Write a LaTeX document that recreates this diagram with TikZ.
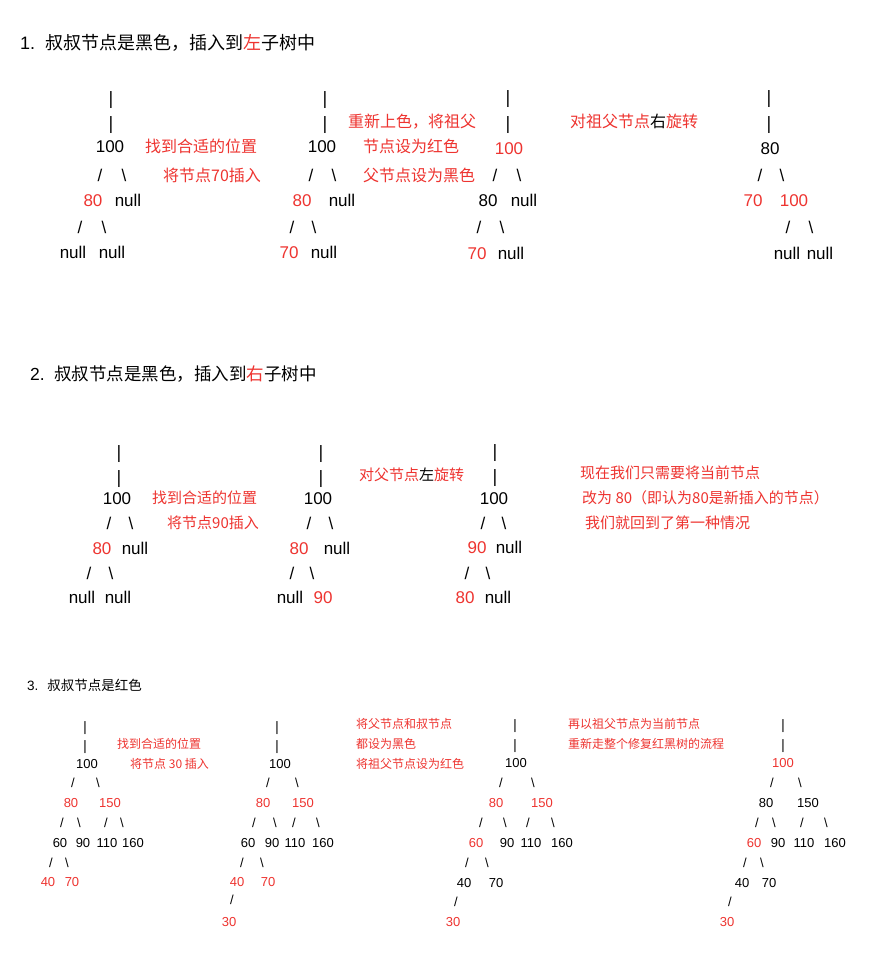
\documentclass[tikz,border=0pt]{standalone}
\usepackage{fontspec}
\setmainfont{Liberation Sans}
\newfontfamily\cjk{Noto Sans CJK SC}
\newfontfamily\barfont{DejaVu Sans}
\definecolor{rbred}{RGB}{238, 52, 48}
\newcommand{\slashch}{/}
\newcommand{\bslashch}{\textbackslash}
\newcommand{\barch}{{\barfont|}}
\tikzset{
  bigtok/.style={
    anchor=base,
    inner sep=0pt,
    yshift=-6pt,
    font=\fontsize{17}{20}\selectfont
  },
  smalltok/.style={
    anchor=base,
    inner sep=0pt,
    yshift=-4.6pt,
    font=\fontsize{13}{15}\selectfont
  },
  note/.style={
    anchor=base west,
    inner sep=0pt,
    text=rbred
  },
  bignote/.style={note, yshift=-6pt, font=\cjk\fontsize{16}{19}\selectfont},
  midnote/.style={note, yshift=-5.7pt, font=\cjk\fontsize{15}{18}\selectfont},
  smallnote/.style={note, yshift=-4.6pt, font=\cjk\fontsize{12}{14}\selectfont},
  casetitle/.style={anchor=base west, inner sep=0pt}
}
\begin{document}
\begin{tikzpicture}[x=1pt, y=-1pt]
  \fill[white] (0,0) rectangle (886,955);
  \useasboundingbox (0,0) rectangle (886,955);

  % case 1
  \node[casetitle, yshift=-6.8pt, font=\fontsize{18}{21}\selectfont] (title1) at (20,43)
    {1.\hspace{10pt}{\cjk 叔叔节点是黑色，插入到{\color{rbred}左}子树中}};

  \foreach \x/\y/\t/\c/\n in {
      111/99/\barch/black/ta-bar1, 111/124/\barch/black/ta-bar2, 110/147/100/black/ta-root,
      100/175/\slashch/black/ta-e1, 124/175/\bslashch/black/ta-e2,
      93/200/80/rbred/ta-p, 128/200/null/black/ta-u,
      80/227/\slashch/black/ta-e3, 104/227/\bslashch/black/ta-e4,
      73/252/null/black/ta-n1, 112/252/null/black/ta-n2}
    \node[bigtok, text=\c] (\n) at (\x,\y) {\t};
  \node[bignote] (ta-note1) at (145,147) {找到合适的位置};
  \node[bignote] (ta-note2) at (163,175) {将节点70插入};

  \foreach \x/\y/\t/\c/\n in {
      325/99/\barch/black/tb-bar1, 325/124/\barch/black/tb-bar2, 322/147/100/black/tb-root,
      311/175/\slashch/black/tb-e1, 334/175/\bslashch/black/tb-e2,
      302/200/80/rbred/tb-p, 342/200/null/black/tb-u,
      292/227/\slashch/black/tb-e3, 314/227/\bslashch/black/tb-e4,
      289/252/70/rbred/tb-x, 324/252/null/black/tb-n}
    \node[bigtok, text=\c] (\n) at (\x,\y) {\t};
  \node[bignote] (tb-note1) at (348,122) {重新上色，将祖父};
  \node[bignote] (tb-note2) at (363,147) {节点设为红色};
  \node[bignote] (tb-note3) at (363,175) {父节点设为黑色};

  \foreach \x/\y/\t/\c/\n in {
      508/98/\barch/black/tc-bar1, 508/124/\barch/black/tc-bar2, 509/148/100/rbred/tc-root,
      495/175/\slashch/black/tc-e1, 519/175/\bslashch/black/tc-e2,
      488/200/80/black/tc-p, 524/200/null/black/tc-u,
      479/227/\slashch/black/tc-e3, 502/227/\bslashch/black/tc-e4,
      477/253/70/rbred/tc-x, 511/253/null/black/tc-n}
    \node[bigtok, text=\c] (\n) at (\x,\y) {\t};
  \node[bignote] (tc-note) at (570,122) {对祖父节点{\color{black}右}旋转};

  \foreach \x/\y/\t/\c/\n in {
      769/98/\barch/black/td-bar1, 769/124/\barch/black/td-bar2, 770/148/80/black/td-root,
      760/175/\slashch/black/td-e1, 782/175/\bslashch/black/td-e2,
      753/200/70/rbred/td-x, 794/200/100/rbred/td-g,
      788/227/\slashch/black/td-e3, 811/227/\bslashch/black/td-e4,
      787/253/null/black/td-n1, 820/253/null/black/td-n2}
    \node[bigtok, text=\c] (\n) at (\x,\y) {\t};

  % case 2
  \node[casetitle, yshift=-6.6pt, font=\fontsize{17.5}{21}\selectfont] (title2) at (30,374)
    {2.\hspace{9.6pt}{\cjk 叔叔节点是黑色，插入到{\color{rbred}右}子树中}};

  \foreach \x/\y/\t/\c/\n in {
      119/452/\barch/black/sa-bar1, 119/477/\barch/black/sa-bar2, 117/498/100/black/sa-root,
      109/523/\slashch/black/sa-e1, 131/523/\bslashch/black/sa-e2,
      102/548/80/rbred/sa-p, 135/548/null/black/sa-u,
      89/573/\slashch/black/sa-e3, 111/573/\bslashch/black/sa-e4,
      82/597/null/black/sa-n1, 118/597/null/black/sa-n2}
    \node[bigtok, text=\c] (\n) at (\x,\y) {\t};
  \node[midnote] (sa-note1) at (152,498) {找到合适的位置};
  \node[midnote] (sa-note2) at (167,523) {将节点90插入};

  \foreach \x/\y/\t/\c/\n in {
      321/452/\barch/black/sb-bar1, 321/477/\barch/black/sb-bar2, 318/498/100/black/sb-root,
      309/523/\slashch/black/sb-e1, 331/523/\bslashch/black/sb-e2,
      299/548/80/rbred/sb-p, 337/548/null/black/sb-u,
      292/573/\slashch/black/sb-e3, 312/573/\bslashch/black/sb-e4,
      290/597/null/black/sb-n, 323/597/90/rbred/sb-x}
    \node[bigtok, text=\c] (\n) at (\x,\y) {\t};
  \node[midnote] (sb-note) at (359,475) {对父节点{\color{black}左}旋转};

  \foreach \x/\y/\t/\c/\n in {
      495/451/\barch/black/sc-bar1, 495/476/\barch/black/sc-bar2, 494/498/100/black/sc-root,
      483/523/\slashch/black/sc-e1, 504/523/\bslashch/black/sc-e2,
      477/547/90/rbred/sc-x, 509/547/null/black/sc-u,
      467/573/\slashch/black/sc-e3, 488/573/\bslashch/black/sc-e4,
      465/597/80/rbred/sc-p, 498/597/null/black/sc-n}
    \node[bigtok, text=\c] (\n) at (\x,\y) {\t};
  \node[midnote] (sc-note1) at (580,473) {现在我们只需要将当前节点};
  \node[midnote] (sc-note2) at (582,498) {改为 80（即认为80是新插入的节点）};
  \node[midnote] (sc-note3) at (585,523) {我们就回到了第一种情况};

  % case 3
  \node[casetitle, yshift=-5.1pt, font=\fontsize{13.5}{16}\selectfont] (title3) at (27,685)
    {3.\hspace{9pt}{\cjk 叔叔节点是红色}};

  \foreach \x/\y/\t/\c/\n in {
      85/727/\barch/black/ra-bar1, 85/746/\barch/black/ra-bar2, 87/764/100/black/ra-root,
      73/783/\slashch/black/ra-e1, 98/783/\bslashch/black/ra-e2,
      71/803/80/rbred/ra-p, 110/803/150/rbred/ra-u,
      62/823/\slashch/black/ra-e3, 79/823/\bslashch/black/ra-e4,
      106/823/\slashch/black/ra-e5, 122/823/\bslashch/black/ra-e6,
      60/843/60/black/ra-a, 83/843/90/black/ra-b, 107/843/110/black/ra-c, 133/843/160/black/ra-d,
      51/863/\slashch/black/ra-e7, 67/863/\bslashch/black/ra-e8,
      48/882/40/rbred/ra-f, 72/882/70/rbred/ra-g}
    \node[smalltok, text=\c] (\n) at (\x,\y) {\t};
  \node[smallnote] (ra-note1) at (117,744) {找到合适的位置};
  \node[smallnote] (ra-note2) at (130,764) {将节点 30 插入};

  \foreach \x/\y/\t/\c/\n in {
      277/727/\barch/black/rb-bar1, 277/746/\barch/black/rb-bar2, 280/764/100/black/rb-root,
      268/783/\slashch/black/rb-e1, 297/783/\bslashch/black/rb-e2,
      263/803/80/rbred/rb-p, 303/803/150/rbred/rb-u,
      254/823/\slashch/black/rb-e3, 275/823/\bslashch/black/rb-e4,
      294/823/\slashch/black/rb-e5, 318/823/\bslashch/black/rb-e6,
      248/843/60/black/rb-a, 272/843/90/black/rb-b, 295/843/110/black/rb-c, 323/843/160/black/rb-d,
      242/863/\slashch/black/rb-e7, 262/863/\bslashch/black/rb-e8,
      237/882/40/rbred/rb-f, 268/882/70/rbred/rb-g,
      232/900/\slashch/black/rb-e9, 229/922/30/rbred/rb-x}
    \node[smalltok, text=\c] (\n) at (\x,\y) {\t};
  \node[smallnote] (rb-note1) at (356,724) {将父节点和叔节点};
  \node[smallnote] (rb-note2) at (356,744) {都设为黑色};
  \node[smallnote] (rb-note3) at (356,764) {将祖父节点设为红色};

  \foreach \x/\y/\t/\c/\n in {
      515/725/\barch/black/rc-bar1, 515/745/\barch/black/rc-bar2, 516/763/100/black/rc-root,
      501/783/\slashch/black/rc-e1, 533/783/\bslashch/black/rc-e2,
      496/803/80/rbred/rc-p, 542/803/150/rbred/rc-u,
      481/823/\slashch/black/rc-e3, 505/823/\bslashch/black/rc-e4,
      528/823/\slashch/black/rc-e5, 553/823/\bslashch/black/rc-e6,
      476/843/60/rbred/rc-a, 507/843/90/black/rc-b, 531/843/110/black/rc-c, 562/843/160/black/rc-d,
      467/863/\slashch/black/rc-e7, 487/863/\bslashch/black/rc-e8,
      464/883/40/black/rc-f, 496/883/70/black/rc-g,
      456/902/\slashch/black/rc-e9, 453/922/30/rbred/rc-x}
    \node[smalltok, text=\c] (\n) at (\x,\y) {\t};
  \node[smallnote] (rc-note1) at (568,724) {再以祖父节点为当前节点};
  \node[smallnote] (rc-note2) at (568,744) {重新走整个修复红黑树的流程};

  \foreach \x/\y/\t/\c/\n in {
      783/725/\barch/black/rd-bar1, 783/745/\barch/black/rd-bar2, 783/763/100/rbred/rd-root,
      772/783/\slashch/black/rd-e1, 800/783/\bslashch/black/rd-e2,
      766/803/80/black/rd-p, 808/803/150/black/rd-u,
      757/823/\slashch/black/rd-e3, 774/823/\bslashch/black/rd-e4,
      802/823/\slashch/black/rd-e5, 826/823/\bslashch/black/rd-e6,
      754/843/60/rbred/rd-a, 778/843/90/black/rd-b, 804/843/110/black/rd-c, 835/843/160/black/rd-d,
      745/863/\slashch/black/rd-e7, 762/863/\bslashch/black/rd-e8,
      742/883/40/black/rd-f, 769/883/70/black/rd-g,
      730/902/\slashch/black/rd-e9, 727/922/30/rbred/rd-x}
    \node[smalltok, text=\c] (\n) at (\x,\y) {\t};
\end{tikzpicture}
\end{document}
